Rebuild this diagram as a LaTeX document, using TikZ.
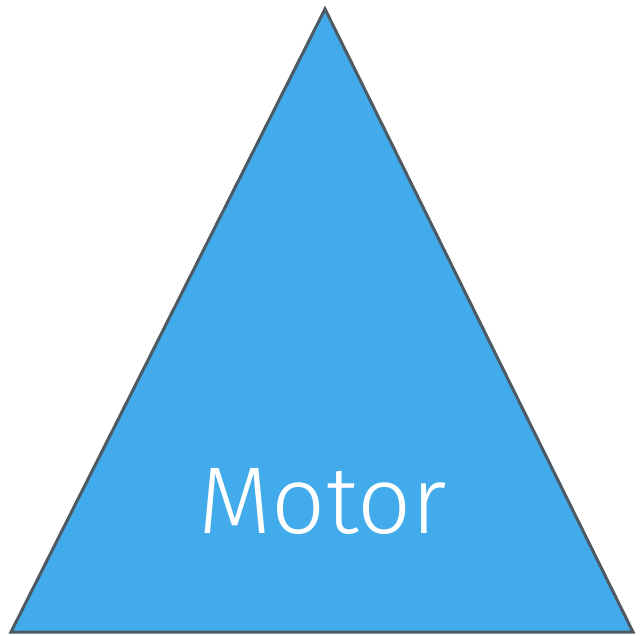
\documentclass[tikz,border=0pt]{standalone}
\usepackage{fontspec}
\newfontfamily\motorfont{Fira Sans Light}
\definecolor{motorblue}{HTML}{42ABEB}
\definecolor{edge}{HTML}{4E5A63}

\begin{document}
\begin{tikzpicture}[x=1pt,y=-1pt,
tri/.style={draw=edge,line width=3pt,fill=motorblue,line join=miter},
lbl/.style={text=white,font=\motorfont\fontsize{95}{95}\selectfont,anchor=base,inner sep=0pt}]
\useasboundingbox (0,0) rectangle (640,636);
\coordinate (top) at (325,9);
\coordinate (bl) at (11,632);
\coordinate (br) at (633,632);
\draw[tri] (top)--(br)--(bl)--cycle;
\node[lbl] (motor) at (323,533) {Motor};
\end{tikzpicture}
\end{document}
